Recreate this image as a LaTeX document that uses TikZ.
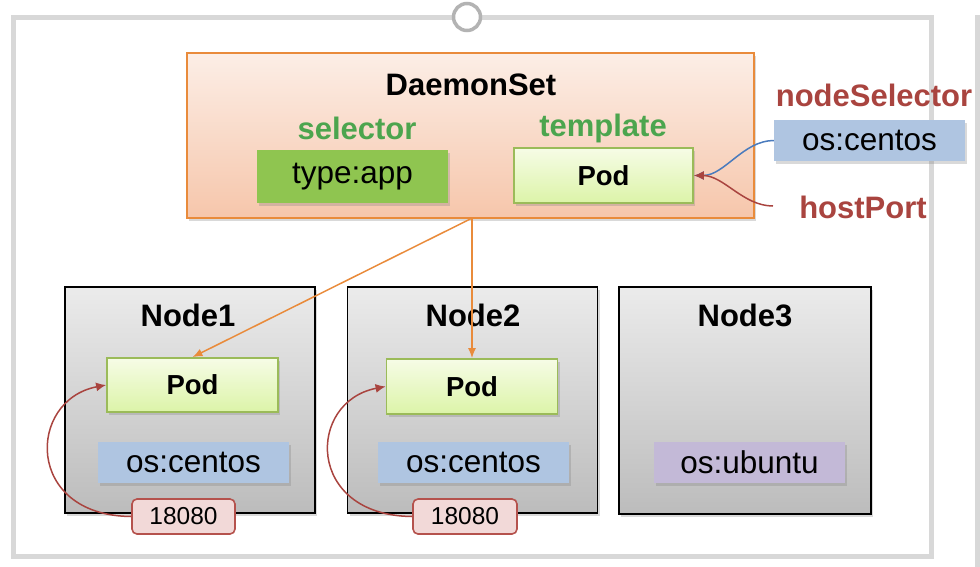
\documentclass[tikz,border=0pt]{standalone}
\usepackage{fontspec}
\setmainfont{Liberation Sans}
\usetikzlibrary{shadows,arrows.meta}
\definecolor{framegray}{HTML}{D8D8D8}
\definecolor{circgray}{HTML}{B3B3B3}
\definecolor{dsorange}{HTML}{E98B3B}
\definecolor{dstop}{HTML}{FCEEE6}
\definecolor{dsbot}{HTML}{F6C6AB}
\definecolor{lblgreen}{HTML}{4CA54E}
\definecolor{appgreen}{HTML}{8FC550}
\definecolor{podtop}{HTML}{F6FCE6}
\definecolor{podbot}{HTML}{DCF4A8}
\definecolor{podborder}{HTML}{9BBB59}
\definecolor{labelblue}{HTML}{AFC5E1}
\definecolor{labelpurple}{HTML}{C3B9D7}
\definecolor{darkred}{HTML}{A9443F}
\definecolor{portfill}{HTML}{F2D9D8}
\definecolor{portborder}{HTML}{B5524D}
\definecolor{linkblue}{HTML}{4A7BBD}
\definecolor{nodetop}{HTML}{EBEBEB}
\definecolor{nodebot}{HTML}{BCBCBC}
\begin{document}
\begin{tikzpicture}[x=1pt,y=-1pt,
  frame/.style={draw=framegray,line width=5pt},
  shade/.style={drop shadow={shadow xshift=2pt,shadow yshift=-3pt,opacity=.3}},
  bigtxt/.style={font=\fontsize{31.5}{36}\selectfont},
  bigbold/.style={font=\fontsize{31}{36}\selectfont\bfseries},
  podtxt/.style={font=\fontsize{27.5}{32}\selectfont\bfseries},
  dsbox/.style={shade,draw=dsorange,line width=1.8pt,top color=dstop,bottom color=dsbot,inner sep=0pt},
  appbox/.style={shade,fill=appgreen,inner sep=0pt,bigtxt},
  podbox/.style={shade,draw=podborder,line width=1.8pt,top color=podtop,bottom color=podbot,inner sep=0pt,minimum width=171pt,minimum height=54pt,podtxt},
  oslabel/.style={shade,fill=labelblue,inner sep=0pt,minimum width=191pt,minimum height=41pt,bigtxt},
  ublabel/.style={shade,fill=labelpurple,inner sep=0pt,minimum width=191pt,minimum height=41pt,bigtxt},
  nodebox/.style={shade,draw=black,line width=1.6pt,top color=nodetop,bottom color=nodebot,inner sep=0pt,minimum width=250pt,minimum height=226pt},
  portbox/.style={draw=portborder,line width=1.6pt,fill=portfill,rounded corners=5pt,inner sep=0pt,minimum width=103pt,minimum height=35pt,font=\fontsize{24.5}{28}\selectfont},
  greenlbl/.style={bigbold,text=lblgreen},
  redlbl/.style={bigbold,text=darkred},
  orangearrow/.style={draw=dsorange,line width=1.5pt,-{Latex[length=10pt,width=8pt]}},
  redarrow/.style={draw=darkred,line width=1.5pt,-{Latex[length=10pt,width=9pt]}},
  bluearrow/.style={draw=linkblue,line width=1.5pt,-{Latex[length=10pt,width=9pt]}}
]
\useasboundingbox (0,0) rectangle (980,566);
% outer frames
\draw[frame] (13,17) rectangle (931,556);
\draw[frame] (977,570) -- (977,17) -- (990,17);
\node[circle,draw=circgray,fill=white,line width=3.5pt,minimum size=27pt,inner sep=0pt] (knob) at (467,17) {};

% DaemonSet
\node[dsbox,minimum width=567pt,minimum height=165pt] (ds) at (470.5,135.5) {};
\node[bigbold] (dst) at (471,85) {DaemonSet};
\node[greenlbl] (sel) at (357,128) {selector};
\node[greenlbl] (tpl) at (603,128) {template};
\node[appbox,minimum width=191pt,minimum height=53pt] (app) at (352.5,176.5) {type:app};
\node[podbox,minimum width=179pt,minimum height=55pt] (tp) at (603.5,175.5) {Pod};

% right side labels
\node[redlbl] (ns) at (874,95) {nodeSelector};
\node[oslabel] (osc) at (869.5,140.5) {os:centos};
\node[redlbl] (hp) at (863,207) {hostPort};
\coordinate (hpend) at (773,206);

% Nodes
\node[nodebox] (n1) at (190,400) {};
\node[nodebox] (n2) at (472.5,400) {};
\node[nodebox,minimum width=252pt,minimum height=227pt] (n3) at (745,400.5) {};
\node[bigbold] (n1t) at (188,315) {Node1};
\node[bigbold] (n2t) at (473,315) {Node2};
\node[bigbold] (n3t) at (745,315) {Node3};

\node[podbox] (p1) at (192.5,385) {Pod};
\node[podbox,minimum height=55pt] (p2) at (472,386.5) {Pod};
\node[oslabel] (os1) at (193.5,462.5) {os:centos};
\node[oslabel] (os2) at (473.5,462.5) {os:centos};
\node[ublabel] (os3) at (749.5,462.5) {os:ubuntu};
\node[portbox] (pt1) at (183.5,516.5) {18080};
\node[portbox,minimum width=104pt] (pt2) at (465,516.5) {18080};

% connectors
\draw[orangearrow] (ds.south) -- (p1.north);
\draw[orangearrow] (ds.south -| p2.north) -- (p2.north);
\draw[bluearrow] (osc.west) to[out=180,in=0,looseness=0.9] (tp.east);
\draw[redarrow] (hpend) to[out=180,in=0,looseness=0.9] (tp.east);
\draw[redarrow] (pt1.west) .. controls +(-107,-1) and +(-79,15) .. (p1.west);
\draw[redarrow] (pt2.west) .. controls +(-107,-1) and +(-79,15) .. (p2.west);
\end{tikzpicture}
\end{document}
